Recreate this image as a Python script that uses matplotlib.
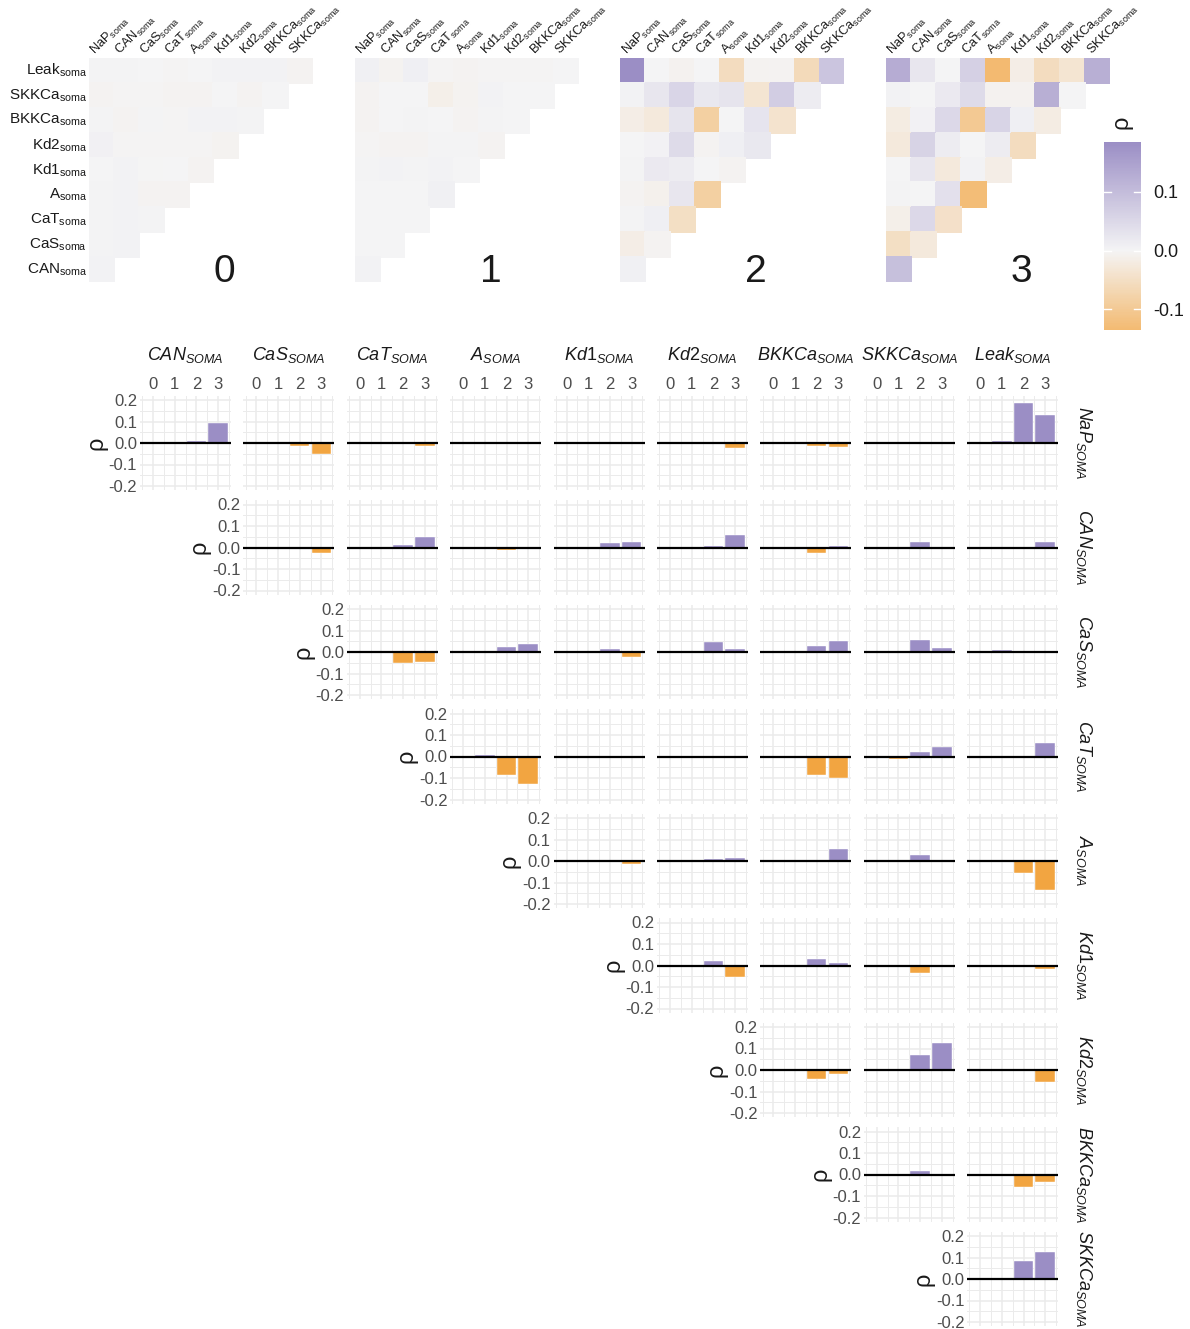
import numpy as np
import matplotlib
matplotlib.use("Agg")
import matplotlib.pyplot as plt
from matplotlib.colors import LinearSegmentedColormap, Normalize

plt.rcParams['font.family'] = ['Liberation Sans', 'DejaVu Sans']
plt.rcParams['mathtext.fontset'] = 'custom'
plt.rcParams['mathtext.rm'] = 'Liberation Sans'
plt.rcParams['mathtext.it'] = 'Liberation Sans:italic'
plt.rcParams['mathtext.bf'] = 'Liberation Sans:bold'

# ---------------- data ----------------
channels = ["NaP", "CAN", "CaS", "CaT", "A", "Kd1", "Kd2", "BKKCa", "SKKCa", "Leak"]
groups = ["0", "1", "2", "3"]
y_ticks = [-0.2, -0.1, 0.0, 0.1, 0.2]
y_tick_labels = ["-0.2", "-0.1", "0.0", "0.1", "0.2"]
cbar_ticks = [-0.1, 0.0, 0.1]
cbar_tick_labels = ["-0.1", "0.0", "0.1"]

# correlation per pair, ordered by second channel then first:
# (NaP,CAN), (NaP,CaS),(CAN,CaS), (NaP,CaT),(CAN,CaT),(CaS,CaT), ...
rho_g0 = [
    0.004,
    0.002, 0.004,
    0.002, 0.004, 0.002,
    0.002, 0.004, -0.003, -0.003,
    0.001, 0.004, -0.001, 0.001, -0.003,
    0.006, -0.002, -0.002, -0.002, -0.002, -0.005,
    0.002, -0.003, 0.002, -0.002, 0.004, 0.004, 0.002,
    -0.003, -0.002, -0.002, -0.003, -0.003, 0.001, -0.004, 0.001,
    0.002, 0.002, 0.001, -0.002, 0.001, 0.003, 0.003, 0.003, -0.004,
]
rho_g1 = [
    0.003,
    0.001, 0.000,
    0.001, 0.001, 0.001,
    0.001, 0.000, 0.000, 0.008,
    0.002, 0.004, 0.002, 0.003, 0.001,
    -0.002, -0.004, -0.003, 0.002, 0.002, -0.004,
    -0.003, 0.001, 0.002, 0.000, -0.003, 0.002, 0.001,
    -0.003, 0.000, 0.000, -0.012, -0.005, 0.003, 0.001, 0.001,
    0.008, -0.005, 0.010, -0.002, -0.003, -0.002, -0.002, -0.002, 0.001,
]
rho_g2 = [
    0.008,
    -0.015, -0.003,
    0.002, 0.010, -0.050,
    -0.003, -0.010, 0.025, -0.085,
    0.002, 0.020, 0.015, 0.000, -0.003,
    0.000, 0.005, 0.045, -0.004, 0.010, 0.022,
    -0.015, -0.025, 0.030, -0.085, 0.000, 0.028, -0.040,
    0.003, 0.025, 0.055, 0.022, 0.030, -0.035, 0.070, 0.015,
    0.185, 0.000, -0.006, 0.000, -0.055, -0.005, -0.004, -0.060, 0.085,
]
rho_g3 = [
    0.095,
    -0.050, -0.025,
    -0.012, 0.050, -0.045,
    0.002, 0.000, 0.035, -0.130,
    0.001, 0.025, -0.025, 0.004, -0.015,
    -0.025, 0.060, 0.015, 0.000, 0.015, -0.055,
    -0.020, 0.005, 0.050, -0.100, 0.058, 0.010, -0.018,
    0.003, 0.000, 0.020, 0.045, -0.006, -0.006, 0.125, 0.000,
    0.130, 0.025, 0.000, 0.065, -0.135, -0.015, -0.055, -0.035, 0.125,
]
rho_all = [rho_g0, rho_g1, rho_g2, rho_g3]


def idx(a, b):
    a, b = min(a, b), max(a, b)
    return b * (b - 1) // 2 + a


# ---------------- style ----------------
PURPLE = "#9B8EC5"
ORANGE = "#F2A541"
MID = "#F4F4F5"
GRID = "#EBEBEB"
TICKC = "#4D4D4D"
cmap = LinearSegmentedColormap.from_list("og", [ORANGE, MID, PURPLE])
all_vals = np.concatenate([np.array(v) for v in rho_all])
vabs = np.abs(all_vals).max()
norm = Normalize(-vabs, vabs)

W, H = 1190, 1329
fig = plt.figure(figsize=(W / 100, H / 100), dpi=100)


def px_axes(x0, y0, w, h):
    return fig.add_axes([x0 / W, 1 - (y0 + h) / H, w / W, h / H])


def lab_soma(name):
    return r"$\mathrm{" + name + r"}_{\mathrm{soma}}$"


def lab_SOMA(name):
    return r"$\mathit{" + name + r"}_{\mathit{SOMA}}$"


# ---------------- heatmaps ----------------
n = 9
for g in range(4):
    ax = px_axes(89 + g * 265.7, 58, 224, 224)
    M = np.full((n, n), np.nan)
    for r in range(n):
        row_ch = 9 - r
        for c in range(row_ch):
            M[r, c] = rho_all[g][idx(c, row_ch)]
    ax.pcolormesh(np.arange(n + 1), np.arange(n + 1), np.ma.masked_invalid(M),
                  cmap=cmap, norm=norm, edgecolor="face", linewidth=0.2)
    ax.set_xlim(0, n)
    ax.set_ylim(n, 0)
    ax.axis("off")
    for c in range(n):
        ax.text(c + 0.26, -0.1, lab_soma(channels[c]), rotation=45, ha="left",
                va="baseline", rotation_mode="anchor", fontsize=9.2, color="#1a1a1a")
    if g == 0:
        for r in range(n):
            ax.text(-0.08, r + 0.5, lab_soma(channels[9 - r]), ha="right",
                    va="center", fontsize=11, color="#1a1a1a")
    ax.text(5.45, 8.6, groups[g], ha="center", va="center", fontsize=28,
            color="#1a1a1a")

# ---------------- colorbar ----------------
cax = px_axes(1104, 142, 37, 188)
vlo, vhi = all_vals.min(), all_vals.max()
edges = np.linspace(vlo, vhi, 257)
centers = 0.5 * (edges[:-1] + edges[1:])
cax.pcolormesh([0, 1], edges, centers[:, None], cmap=cmap, norm=norm)
cax.set_xlim(0, 1)
cax.set_ylim(vlo, vhi)
for s in cax.spines.values():
    s.set_visible(False)
cax.set_xticks([])
cax.yaxis.tick_right()
cax.set_yticks(cbar_ticks)
cax.set_yticklabels(cbar_tick_labels)
cax.tick_params(axis="y", length=0, labelsize=13, pad=9, labelcolor="#1a1a1a")
for t in cbar_ticks:
    cax.plot([0, 0.2], [t, t], color="white", lw=1)
    cax.plot([0.8, 1], [t, t], color="white", lw=1)
fig.text(1122 / W, 1 - 122 / H, "ρ", rotation=90, ha="center", va="center",
         fontsize=17, color="#1a1a1a")

# ---------------- bar grid ----------------
x_major = [0, 1, 2, 3]
x_minor = [-0.5, 0.5, 1.5, 2.5, 3.5]
y_minor = [-0.15, -0.05, 0.05, 0.15]
for i in range(9):
    yc = 443 + i * 104.5
    for j in range(i, 9):
        x0 = 140 + j * 103.4
        ax = px_axes(x0, yc - 47.3, 91, 94.6)
        ax.set_xlim(-0.6, 3.6)
        ax.set_ylim(-0.22, 0.22)
        ax.set_xticks(x_major)
        ax.set_xticks(x_minor, minor=True)
        ax.set_yticks(y_ticks)
        ax.set_yticks(y_minor, minor=True)
        ax.grid(which="major", color=GRID, lw=1.1)
        ax.grid(which="minor", color=GRID, lw=0.7)
        ax.set_axisbelow(True)
        for s in ax.spines.values():
            s.set_visible(False)
        ax.tick_params(which="both", length=0)
        vals = [rho_all[g][idx(i, j + 1)] for g in range(4)]
        cols = [PURPLE if v > 0 else ORANGE for v in vals]
        ax.bar(x_major, vals, width=0.9, color=cols, edgecolor="white", linewidth=0.3,
               zorder=2)
        ax.axhline(0, color="black", lw=1.6, zorder=3)
        if i == 0:
            ax.xaxis.tick_top()
            ax.set_xticklabels(groups)
            ax.tick_params(axis="x", labelsize=12, labelcolor=TICKC, pad=3)
            fig.text((x0 + 45.5) / W, 1 - 355 / H, lab_SOMA(channels[j + 1]),
                     ha="center", va="center", fontsize=13, color="#1a1a1a")
        else:
            ax.set_xticklabels([])
        if j == i:
            ax.set_yticklabels(y_tick_labels)
            ax.tick_params(axis="y", labelsize=12, labelcolor=TICKC, pad=2)
            ax.set_ylabel("ρ", fontsize=17, labelpad=1, color="#1a1a1a")
        else:
            ax.set_yticklabels([])
    fig.text(1084 / W, 1 - yc / H, lab_SOMA(channels[i]), rotation=-90,
             ha="center", va="center", fontsize=13, color="#1a1a1a")

fig.savefig("out.png", dpi=100, facecolor="white")
